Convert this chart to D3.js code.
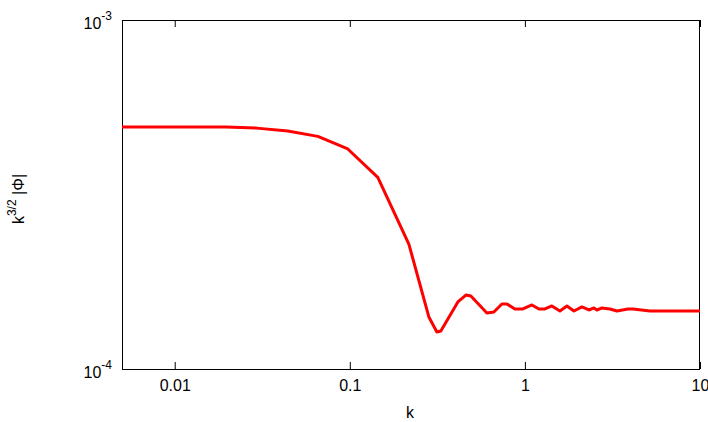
<!DOCTYPE html>
<html>
<head>
<meta charset="utf-8">
<script src="https://cdn.jsdelivr.net/npm/d3@7"></script>
<style>
  body { margin: 0; background: #fff; }
  text { font-family: "Liberation Sans", Arial, sans-serif; fill: #000; }
</style>
</head>
<body>
<script>
// wavenumber k and k^{3/2}|Phi| (in units of 1e-4)
var kValues = [0.005, 0.0196, 0.0294, 0.0442, 0.0657, 0.0974, 0.1445, 0.2174, 0.2828, 0.3143,
  0.3311, 0.4142, 0.4601, 0.4914, 0.6066, 0.6651, 0.7389, 0.7892, 0.8767, 0.974,
  1.0965, 1.2023, 1.3013, 1.4264, 1.5849, 1.7378, 1.9055, 2.117, 2.3212, 2.4794,
  2.5787, 2.7542, 3.0603, 3.3555, 3.8782, 4.1411, 5.1798, 10];
var phiValues = [4.94, 4.94, 4.90, 4.81, 4.64, 4.27, 3.54, 2.28, 1.41, 1.276,
  1.285, 1.556, 1.629, 1.619, 1.447, 1.457, 1.536, 1.536, 1.486, 1.486,
  1.526, 1.486, 1.486, 1.516, 1.466, 1.516, 1.466, 1.506, 1.476, 1.496,
  1.476, 1.496, 1.486, 1.466, 1.486, 1.486, 1.466, 1.466];

var xTicks = [0.01, 0.1, 1, 10];
var yTicks = [1e-4, 1e-3];
var yTickExp = ['-4', '-3'];

var width = 708, height = 422;
var plotLeft = 122, plotRight = 700, plotTop = 20, plotBottom = 369;

var svg = d3.select('body').append('svg')
  .attr('width', width)
  .attr('height', height);

var x = d3.scaleLog().domain([0.005, 10]).range([plotLeft, plotRight]);
var y = d3.scaleLog().domain([1e-4, 1e-3]).range([plotBottom, plotTop]);

// bottom axis with inward ticks
var xAxis = svg.append('g')
  .attr('transform', 'translate(0,' + plotBottom + ')')
  .call(d3.axisBottom(x).tickValues(xTicks).tickSizeInner(-7).tickSizeOuter(0)
    .tickPadding(11).tickFormat(function(d) { return String(d); }));

// mirrored top ticks
svg.append('g')
  .attr('transform', 'translate(0,' + plotTop + ')')
  .call(d3.axisTop(x).tickValues(xTicks).tickSizeInner(-7).tickSizeOuter(0).tickFormat(''));

// left axis, labels as 10^n
var yAxis = svg.append('g')
  .attr('transform', 'translate(' + plotLeft + ',0)')
  .call(d3.axisLeft(y).tickValues(yTicks).tickSizeInner(-7).tickSizeOuter(0).tickPadding(10));

svg.append('g')
  .attr('transform', 'translate(' + plotRight + ',0)')
  .call(d3.axisRight(y).tickValues(yTicks).tickSizeInner(-7).tickSizeOuter(0).tickFormat(''));

svg.selectAll('.domain').remove();
svg.selectAll('.tick line').attr('stroke', '#000');
svg.selectAll('g').attr('font-family', '"Liberation Sans", Arial, sans-serif').attr('font-size', 16);

yAxis.selectAll('.tick text')
  .attr('dy', '0.5em')
  .text(null)
  .each(function(d, i) {
    var t = d3.select(this);
    t.append('tspan').text('10');
    t.append('tspan').attr('font-size', 12).attr('dy', -9).text(yTickExp[i]);
  });

// frame
svg.append('rect')
  .attr('x', plotLeft + 0.5)
  .attr('y', plotTop + 0.5)
  .attr('width', plotRight - plotLeft - 1)
  .attr('height', plotBottom - plotTop)
  .attr('fill', 'none')
  .attr('stroke', '#000')
  .attr('stroke-width', 1);

// the curve
var line = d3.line()
  .x(function(d, i) { return x(kValues[i]); })
  .y(function(d) { return y(d * 1e-4); });

svg.append('path')
  .datum(phiValues)
  .attr('d', line)
  .attr('fill', 'none')
  .attr('stroke', '#ff0000')
  .attr('stroke-width', 3)
  .attr('stroke-linejoin', 'round');

// axis titles
svg.append('text')
  .attr('x', 410)
  .attr('y', 418)
  .attr('text-anchor', 'middle')
  .attr('font-size', 16)
  .text('k');

var yTitle = svg.append('text')
  .attr('transform', 'translate(24,199) rotate(-90)')
  .attr('text-anchor', 'middle')
  .attr('font-size', 16);
yTitle.append('tspan').text('k');
yTitle.append('tspan').attr('font-size', 12).attr('dy', -8).text('3/2');
yTitle.append('tspan').attr('dy', 8).text(' |\u03A6|');
</script>
</body>
</html>
